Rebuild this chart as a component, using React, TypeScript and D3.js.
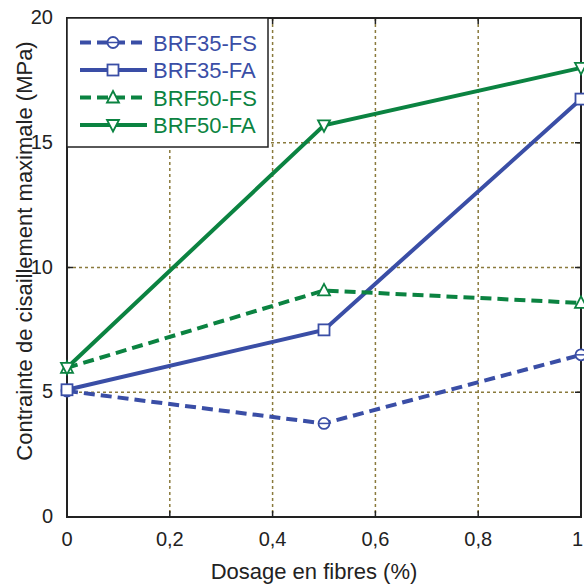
import React from "react";
import * as d3 from "d3";

const xValues = [0, 0.5, 1];
const brf35fs = [5.05, 3.75, 6.5];
const brf35fa = [5.1, 7.5, 16.75];
const brf50fs = [5.98, 9.08, 8.58];
const brf50fa = [5.98, 15.7, 18.0];
const xTicks = [0, 0.2, 0.4, 0.6, 0.8, 1];
const yTicks = [0, 5, 10, 15, 20];

const BLUE = "#3a4ea6";
const GREEN = "#0b8341";

const seriesList = [
  { name: "BRF35-FS", values: brf35fs, color: BLUE, dashed: true, marker: "circle" },
  { name: "BRF35-FA", values: brf35fa, color: BLUE, dashed: false, marker: "square" },
  { name: "BRF50-FS", values: brf50fs, color: GREEN, dashed: true, marker: "triangle" },
  { name: "BRF50-FA", values: brf50fa, color: GREEN, dashed: false, marker: "triangleDown" },
];

const L = 67, R = 581, T = 18, B = 517;

function Marker({ type, x, y, color }: { type: string; x: number; y: number; color: string }) {
  const s = 5.5;
  if (type === "circle") {
    return (
      <g>
        <circle cx={x} cy={y} r={s} fill="white" stroke={color} strokeWidth={1.8} />
        <line x1={x - s} x2={x + s} y1={y} y2={y} stroke={color} strokeWidth={1.5} />
      </g>
    );
  }
  if (type === "square") {
    return <rect x={x - s} y={y - s} width={2 * s} height={2 * s} fill="white" stroke={color} strokeWidth={1.8} />;
  }
  if (type === "triangle") {
    return <path d={`M${x},${y - s - 1}L${x + s + 0.5},${y + s - 0.5}L${x - s - 0.5},${y + s - 0.5}Z`} fill="white" stroke={color} strokeWidth={1.8} />;
  }
  return <path d={`M${x},${y + s + 1}L${x + s + 0.5},${y - s + 0.5}L${x - s - 0.5},${y - s + 0.5}Z`} fill="white" stroke={color} strokeWidth={1.8} />;
}

export default function App() {
  const x = d3.scaleLinear().domain([0, 1]).range([L, R]);
  const y = d3.scaleLinear().domain([0, 20]).range([B, T]);
  const line = d3.line<number>().x((_, i) => x(xValues[i])).y((d) => y(d));
  const fmt = (v: number) => String(v).replace(".", ",");
  const font = "'Liberation Sans', Arial, sans-serif";
  const gridColor = "#8a7a3c";

  return (
    <svg width={584} height={585} style={{ position: "absolute", left: 0, top: 0 }} fontFamily={font}>
      <rect width={584} height={585} fill="white" />
      {/* grid */}
      {xTicks.slice(1, -1).map((t) => (
        <line key={"gx" + t} x1={x(t)} x2={x(t)} y1={T} y2={B} stroke={gridColor} strokeWidth={1.5} strokeDasharray="3,3" />
      ))}
      {yTicks.slice(1, -1).map((t) => (
        <line key={"gy" + t} x1={L} x2={R} y1={y(t)} y2={y(t)} stroke={gridColor} strokeWidth={1.5} strokeDasharray="3,3" />
      ))}
      {/* frame */}
      <rect x={L} y={T} width={R - L} height={B - T} fill="none" stroke="#222" strokeWidth={2} />
      {/* ticks */}
      {xTicks.map((t) => (
        <g key={"tx" + t}>
          <line x1={x(t)} x2={x(t)} y1={B} y2={B - 6} stroke="#222" strokeWidth={1.5} />
          <line x1={x(t)} x2={x(t)} y1={T} y2={T + 6} stroke="#222" strokeWidth={1.5} />
          <text x={t === 1 ? 572 : x(t)} y={B + 29} textAnchor={t === 1 ? "start" : "middle"} fontSize={20} fill="#222">{fmt(t)}</text>
        </g>
      ))}
      {yTicks.map((t) => (
        <g key={"ty" + t}>
          <line x1={L} x2={L + 6} y1={y(t)} y2={y(t)} stroke="#222" strokeWidth={1.5} />
          <line x1={R} x2={R - 6} y1={y(t)} y2={y(t)} stroke="#222" strokeWidth={1.5} />
          <text x={L - 14} y={y(t) + 6} textAnchor="end" fontSize={20} fill="#222">{t}</text>
        </g>
      ))}
      {/* series */}
      {seriesList.map((s) => (
        <g key={s.name}>
          <path d={line(s.values) || ""} fill="none" stroke={s.color} strokeWidth={4} strokeDasharray={s.dashed ? "11,6" : undefined} />
          {s.values.map((v, i) => (
            <Marker key={i} type={s.marker} x={x(xValues[i])} y={y(v)} color={s.color} />
          ))}
        </g>
      ))}
      {/* legend */}
      <rect x={L} y={T} width={201} height={129} fill="white" stroke="#222" strokeWidth={1.5} />
      {seriesList.map((s, i) => {
        const ly = 42.5 + i * 27.5;
        return (
          <g key={"lg" + s.name}>
            <line x1={80} x2={147} y1={ly} y2={ly} stroke={s.color} strokeWidth={4} strokeDasharray={s.dashed ? "11,6" : undefined} />
            <Marker type={s.marker} x={113} y={ly} color={s.color} />
            <text x={153} y={ly + 8} fontSize={22} fill={s.color}>{s.name}</text>
          </g>
        );
      })}
      {/* axis labels */}
      <text x={314} y={579} textAnchor="middle" fontSize={22} fill="#222">Dosage en fibres (%)</text>
      <text transform={`translate(32, 251) rotate(-90)`} textAnchor="middle" fontSize={22} fill="#222">
        Contrainte de cisaillement maximale (MPa)
      </text>
    </svg>
  );
}
